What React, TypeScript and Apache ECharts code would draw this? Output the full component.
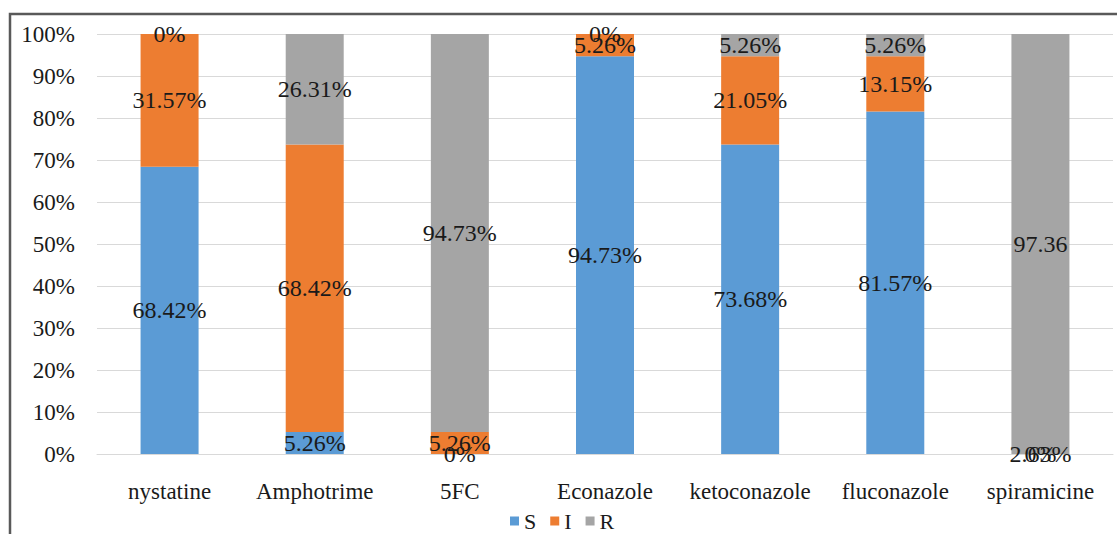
import React, { useEffect, useRef } from "react";
import * as echarts from "echarts";

const categories = ["nystatine", "Amphotrime", "5FC", "Econazole", "ketoconazole", "fluconazole", "spiramicine"];
const seriesNames = ["S", "I", "R"];
const sValues = [68.42, 5.26, 0, 94.73, 73.68, 81.57, 0];
const iValues = [31.57, 68.42, 5.26, 5.26, 21.05, 13.15, 0];
const rValues = [0, 26.31, 94.73, 0, 5.26, 5.26, 100];
const sLabels = ["68.42%", "5.26%", "0%", "94.73%", "73.68%", "81.57%", "0%"];
const iLabels = ["31.57%", "68.42%", "5.26%", "5.26%", "21.05%", "13.15%", "2.63%"];
const rLabels = ["0%", "26.31%", "94.73%", "0%", "5.26%", "5.26%", "97.36"];
const colors = ["#5B9BD5", "#ED7D31", "#A5A5A5"];

const FONT = "Liberation Serif, Times New Roman, serif";

export default function App() {
  const ref = useRef<HTMLDivElement>(null);
  useEffect(() => {
    document.body.style.margin = "0";
    if (!ref.current) return;
    const chart = echarts.init(ref.current, undefined, { renderer: "svg" });
    const valuesList = [sValues, iValues, rValues];
    const labelsList = [sLabels, iLabels, rLabels];
    chart.setOption({
      animation: false,
      backgroundColor: "#ffffff",
      textStyle: { fontFamily: FONT, fontWeight: "normal" },
      grid: { left: 97, right: 4, top: 34, bottom: 80 },
      legend: {
        data: seriesNames,
        left: 510,
        top: 510,
        itemWidth: 9,
        itemHeight: 9,
        itemGap: 14,
        padding: 0,
        icon: "rect",
        textStyle: { fontFamily: FONT, fontSize: 22, color: "#1a1a1a" },
      },
      xAxis: {
        type: "category",
        data: categories,
        axisLine: { show: true, lineStyle: { color: "#D9D9D9", width: 1 } },
        axisTick: { show: false },
        axisLabel: { interval: 0, fontFamily: FONT, fontSize: 23, color: "#1a1a1a", margin: 26 },
      },
      yAxis: {
        type: "value",
        min: 0,
        max: 100,
        interval: 10,
        axisLine: { show: false },
        axisTick: { show: false },
        splitLine: { lineStyle: { color: "#D9D9D9", width: 1 } },
        axisLabel: { fontFamily: FONT, fontSize: 23, color: "#1a1a1a", margin: 22, formatter: "{value}%" },
      },
      graphic: [
        {
          type: "rect",
          shape: { x: 10, y: 14, width: 1130, height: 540 },
          style: { fill: "none", stroke: "#595959", lineWidth: 2.5 },
          silent: true,
          z: 100,
        },
      ],
      series: seriesNames.map((name, k) => ({
        name,
        type: "bar",
        stack: "total",
        barWidth: 58,
        data: valuesList[k],
        itemStyle: { color: colors[k] },
        label: {
          show: true,
          position: "inside",
          fontFamily: FONT,
          fontSize: 24,
          color: "#1a1a1a",
          formatter: (p: any) => labelsList[k][p.dataIndex],
        },
      })),
    });
    return () => chart.dispose();
  }, []);
  return <div ref={ref} style={{ width: 1117, height: 534 }} />;
}
